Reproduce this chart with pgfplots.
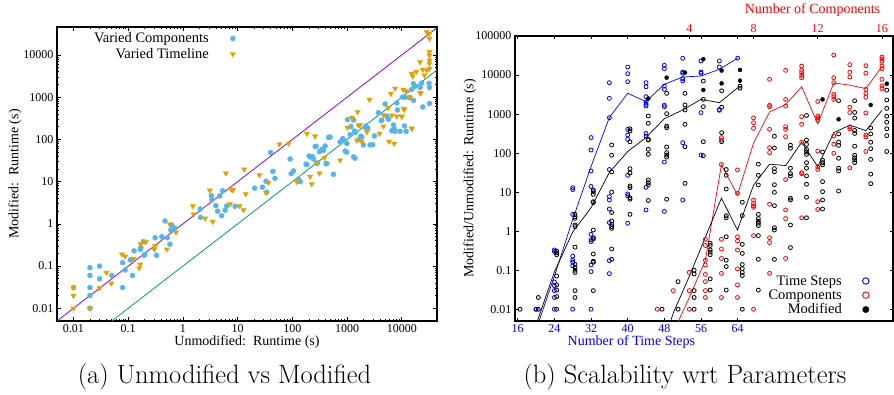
\documentclass[border=0pt]{standalone}
\usepackage{pgfplots}
\pgfplotsset{compat=1.18}
\usepackage{fontspec}
\newfontfamily\axfont{Liberation Serif}
\newcommand\af{\axfont\fontsize{12}{14}\selectfont}
\newcommand\lf{\axfont\fontsize{14}{16}\selectfont}
\newcommand\gf{\axfont\fontsize{14.5}{16}\selectfont}
\definecolor{cblue}{HTML}{56B4E9}
\definecolor{corange}{HTML}{E69F00}
\definecolor{cpurple}{HTML}{9400D3}
\definecolor{cgreen}{HTML}{009E73}
\begin{document}
\begin{tikzpicture}[x=1pt,y=1pt]
\path[use as bounding box] (0,0) rectangle (894,394);
% ---------------- left panel
\begin{axis}[
  at={(57pt,73pt)}, anchor=south west, scale only axis,
  width=380pt, height=294pt,
  xmode=log, ymode=log,
  xmin=0.005, xmax=44000, ymin=0.005, ymax=46000,
  xtick={0.01,0.1,1,10,100,1000,10000},
  xticklabels={0.01,0.1,1,10,100,1000,10000},
  ytick={0.01,0.1,1,10,100,1000,10000},
  yticklabels={0.01,0.1,1,10,100,1000,10000},
  /pgf/number format/assume math mode=true,
  tick label style={font=\af},
  label style={font=\lf},
  axis line style={line width=1.2pt},
  tick style={line width=0.6pt, black},
  major tick length=4pt, minor tick length=2pt,
  xlabel={Unmodified:\ \ Runtime (s)},
  ylabel={Modified:\ \ Runtime (s)},
  xlabel style={at={(axis description cs:0.5,-0.0714)}, anchor=center},
  ylabel style={at={(axis description cs:-0.1105,0.5)}, anchor=center},
  legend style={font=\gf, draw=none, fill=none, at={(axis description cs:0.478,0.995)}, anchor=north east, row sep=0pt, legend cell align=right},
  legend plot pos=right,
  legend image code/.code={\path[draw=none,fill=none] (0pt,0pt) -- (22pt,0pt); \draw[#1] plot coordinates {(22pt,0pt)};},
]
\addplot[only marks, mark=*, mark size=2.5pt, color=cblue] table {
x y
0.01 0.031
0.02 0.092
0.02 0.06
0.02 0.031
0.02 0.02
0.02 0.01
0.03 0.1
0.03 0.05
0.05 0.06
0.079 0.031
0.079 0.12
0.088 0.081
0.109 0.14
0.12 0.06
0.128 0.23
0.166 0.25
0.17 0.27
0.19 0.38
0.196 0.18
0.2 0.19
0.31 0.47
0.33 0.18
0.41 0.5
0.47 1.17
0.52 0.47
0.58 0.33
0.6 0.72
0.63 0.94
0.72 0.79
2.07 2.25
2.1 1.43
3.3 4.65
3.4 3.7
4.0 2.7
4.3 2.0
4.7 4.57
5.1 1.56
5.3 6.1
5.9 2.1
6.3 2.65
9.0 2.6
20.5 7.0
28.4 7.4
33 10.2
34 5.6
40 49
44 17.5
48 12
91 34.4
95 15.5
105 17.9
129 11.4
135 10.2
140 10
178 26
184 25.3
202 40.6
211 38.5
233 39
243 34.4
261 68
272 69
280 27.2
288 27.7
313 51
345 58
370 55
397 70
414 26.7
426 27
457 112
490 114
564 14.9
747 87
835 104
860 97
920 53
988 50
990 80
1016 294
1137 130
1170 201
1310 290
1310 38.5
1365 158
1400 36
1400 145
1680 100
1780 119
1860 112
1990 74
2140 191
2230 208
2390 183
2630 74
2950 75
3160 121
3740 431
4190 279
4300 284
4960 692
5320 353
5700 300
6560 161
7040 220
7240 180
7550 156
8100 731
8340 498
9300 156
10400 1010
11200 208
11500 993
12000 156
13800 980
15200 1540
16300 845
16300 2095
17500 1810
21600 1710
23200 2170
24200 587
31500 2130
32000 1690
32000 705
};
\addlegendentry{Varied Components}
\addplot[only marks, mark=triangle*, mark size=3pt, mark options={rotate=180}, color=corange] table {
x y
0.01 0.031
0.01 0.02
0.01 0.01
0.02 0.01
0.03 0.03
0.04 0.07
0.049 0.039
0.077 0.19
0.088 0.17
0.125 0.15
0.159 0.09
0.166 0.11
0.17 0.33
0.21 0.37
0.3 0.25
0.31 0.3
0.51 0.25
0.57 0.99
0.75 0.63
1.52 2.65
1.56 1.68
2.55 1.35
3.1 6.2
3.5 1.13
6.1 15.8
7.3 2.96
7.6 6.6
8.2 6.3
10.8 2.65
12.8 2.13
13.2 19.6
14.1 5.1
25 14.4
32.7 5.5
36.6 9.5
58 77
85 80
120 10
184 137
226 8.8
211 13.2
260 119
272 27.7
313 15.8
386 37
747 32
1016 191
1220 328
1510 95
1550 447
1615 216
1730 220
1860 87
2300 150
2560 877
3910 137
4620 204
4620 379
5700 566
5860 89
6300 1210
6560 372
7240 80
7550 1600
8100 353
9980 347
10000 353
10700 536
10700 1510
11200 516
12000 1400
14200 993
15200 180
15200 183
15200 3610
15800 3130
18300 4030
21600 6820
21600 1260
22200 1240
24200 4500
25900 3300
28600 4330
32000 4740
32000 6240
32000 7480
32000 9820
32000 11800
32000 24400
32000 32000
28600 35100
};
\addlegendentry{Varied Timeline}
\addplot[cpurple, line width=0.8pt, forget plot] coordinates {(0.005,0.005) (44000,44000)};
\addplot[cgreen, line width=0.8pt, forget plot] coordinates {(0.05,0.005) (44000,4400)};
\end{axis}
% ---------------- right panel, bottom axis (time steps)
\begin{axis}[
  at={(515pt,73pt)}, anchor=south west, scale only axis,
  width=378pt, height=285pt,
  ymode=log, xmin=15.41, xmax=97.89, ymin=0.005, ymax=100000,
  xtick={16,24,32,40,48,56,64},
  xticklabels={16,24,32,40,48,56,64},
  ytick={0.01,0.1,1,10,100,1000,10000,100000},
  yticklabels={0.01,0.1,1,10,100,1000,10000,100000},
  /pgf/number format/assume math mode=true,
  tick label style={font=\af},
  x tick label style={text=blue},
  label style={font=\lf},
  axis line style={line width=1.2pt},
  tick style={line width=0.6pt, black},
  major tick length=3.5pt, minor tick length=0pt,
  xlabel={Number of Time Steps},
  xlabel style={text=blue, at={(axis description cs:0.308,-0.0737)}, anchor=center},
  ylabel={Modified/Unmodified: Runtime (s)},
  ylabel style={at={(axis description cs:-0.119,0.5)}, anchor=center},
]
\addplot[only marks, mark=o, mark size=2pt, blue, mark options={line width=0.8pt}] table {
t v
20 0.01
20 0.01
24 0.33
24 0.30
24 0.05
24 0.04
24 0.03
24 0.02
24 0.01
28 13
28 11.6
28 2.7
28 0.23
28 0.18
28 0.16
28 0.13
28 0.01
32 250
32 120
32 35
32 14
32 0.83
32 0.6
32 0.54
32 0.136
32 0.092
32 0.01
36 6370
36 2530
36 810
36 38
36 7.7
36 6.3
36 3.7
36 1.66
36 0.176
36 0.082
40 16100
40 10800
40 6750
40 406
40 291
40 225
40 27
40 9
40 8.1
40 1.6
44 6370
44 5000
44 2790
44 2040
44 1780
44 1610
44 320
44 274
44 13.3
44 3.5
48 17700
48 14600
48 5230
48 4300
48 1680
48 1550
48 59
48 3.2
52 26800
52 11950
52 11070
52 8080
52 7040
52 185
52 6.3
56 22900
56 11950
56 11070
56 1090
56 89
60 23000
60 16000
60 1300
60 1250
64 27000
};
\addplot[blue, line width=0.7pt] coordinates {(20,0.003) (24,0.07) (28,2.0) (32,45) (36,820) (40,3400) (44,2100) (48,5800) (52,8900) (56,9440) (60,14000) (64,27000)};
\addplot[only marks, mark=o, mark size=2pt, black, mark options={line width=0.8pt}] table {
t v
16.5 0.01
20.5 0.02
20.5 0.01
24.5 0.31
24.5 0.28
24.5 0.25
24.5 0.071
24.5 0.042
24.5 0.031
24.5 0.021
24.5 0.01
28.5 2.7
28.5 2.36
28.5 2.14
28.5 1.44
28.5 1.31
28.5 0.39
28.5 0.14
28.5 0.116
28.5 0.10
28.5 0.088
28.5 0.03
28.5 0.02
32.5 11.4
32.5 10.3
32.5 8.8
32.5 5.7
32.5 5.4
32.5 1.07
32.5 0.68
32.5 0.63
32.5 0.26
32.5 0.17
32.5 0.16
32.5 0.03
36.5 161
36.5 88
36.5 33
36.5 10
36.5 3.0
36.5 1.82
36.5 1.5
36.5 1.31
36.5 1.18
36.5 0.35
36.5 0.19
40.5 420
40.5 370
40.5 195
40.5 40
40.5 31
40.5 14.4
40.5 13
40.5 7.2
40.5 6.6
40.5 2.7
44.5 890
44.5 580
44.5 225
44.5 217
44.5 125
44.5 93
44.5 20.5
44.5 17.5
44.5 15.3
44.5 6.1
48.5 3400
48.5 1024
48.5 494
48.5 448
48.5 143
48.5 103
48.5 89
48.5 79
48.5 6.6
52.5 3400
52.5 1710
52.5 1270
52.5 546
52.5 146
52.5 16.8
56.5 7000
56.5 2380
56.5 1550
56.5 196
56.5 86
60.5 3950
60.5 1500
60.5 334
60.5 196
64.5 5200
64.5 4600
};
\addplot[only marks, mark=*, mark size=2pt, black] table {
t v
44.5 2500
48.5 8570
52.5 11500
56.5 25500
56.5 4140
60.5 13000
60.5 6100
64.5 13500
64.5 7200
};
\addplot[black, line width=0.7pt] coordinates {(20,0.004) (24,0.09) (28,0.95) (32,4) (36,32) (40,110) (44,250) (48,760) (52,1270) (56,2380) (60,1960) (64,4740)};
\end{axis}
% ---------------- right panel, top axis (components)
\begin{axis}[
  at={(515pt,73pt)}, anchor=south west, scale only axis,
  width=378pt, height=285pt,
  ymode=log, xmin=-6.86, xmax=16.69, ymin=0.005, ymax=100000,
  axis x line*=top, hide y axis,
  xtick={4,8,12,16}, xticklabels={4,8,12,16},
  /pgf/number format/assume math mode=true,
  tick label style={font=\af},
  x tick label style={text=red},
  label style={font=\lf},
  axis line style={line width=1.2pt},
  tick style={line width=0.6pt, black},
  major tick length=3.5pt, minor tick length=0pt,
  xlabel={Number of Components},
  xlabel style={text=red, at={(axis description cs:0.787,1.091)}, anchor=center},
  legend style={font=\gf, draw=none, fill=none, at={(axis description cs:0.945,0.005)}, anchor=south east, row sep=-1pt, legend cell align=right},
  legend plot pos=right,
  legend image code/.code={\path[draw=none,fill=none] (0pt,0pt) -- (22pt,0pt); \draw[#1] plot coordinates {(22pt,0pt)};},
]
\addplot[only marks, mark=o, mark size=2pt, red, mark options={line width=0.8pt}, forget plot] table {
c v
2 0.01
3 0.03
4 0.088
4 0.03
4 0.01
5 0.62
5 0.43
5 0.18
5 0.136
5 0.078
5 0.051
5 0.03
5 0.02
6 250
6 217
6 51
6 0.62
6 0.35
6 0.20
6 0.083
6 0.02
7 37
7 9.3
7 0.72
7 0.56
7 0.33
7 0.108
7 0.042
7 0.02
8 800
8 600
8 430
8 6.3
8 5.2
8 4.5
8 4.1
8 0.77
8 0.01
9 7760
9 1680
9 1550
9 406
9 138
9 103
9 4.9
9 0.68
9 0.51
9 0.083
10 13200
10 2380
10 1610
10 475
10 406
10 264
10 21
10 3.5
10 2.1
10 0.2
11 17000
11 13200
11 11500
11 9800
11 8550
11 858
11 546
11 190
11 31.5
11 29.7
11 2.2
12 2100
12 900
12 800
12 700
12 113
12 45
12 38
12 5.7
12 3.6
13 32600
13 8570
13 6370
13 3210
13 2790
13 2380
13 274
13 168
13 99
14 18500
14 11800
14 8900
14 1500
14 1100
14 470
14 420
14 42
15 17300
15 11200
15 4300
15 3400
15 2700
15 1070
15 290
15 260
15 110
16 29000
16 26000
16 22500
16 17000
16 14500
16 7760
16 5240
16 4500
};
\addplot[red, line width=0.7pt, forget plot] coordinates {(3,0.0026) (4,0.02) (5,0.18) (6,50) (7,8.5) (8,180) (9,1130) (10,1750) (11,5000) (12,560) (13,6300) (14,5500) (15,4500) (16,16500)};
\addplot[only marks, mark=o, mark size=2pt, black, mark options={line width=0.8pt}, forget plot] table {
c v
2.3 0.01
3.3 0.051
3.3 0.01
4.3 0.10
4.3 0.08
4.3 0.03
4.3 0.02
4.3 0.01
5.3 0.49
5.3 0.43
5.3 0.33
5.3 0.29
5.3 0.25
5.3 0.06
5.3 0.031
5.3 0.01
6.3 38
6.3 27
6.3 12
6.3 2.5
6.3 2.2
6.3 0.72
6.3 0.18
6.3 0.124
6.3 0.031
7.3 5.5
7.3 2.5
7.3 0.46
7.3 0.27
7.3 0.14
7.3 0.11
7.3 0.088
7.3 0.073
7.3 0.01
8.3 52
8.3 27
8.3 15.3
8.3 2.7
8.3 2.1
8.3 1.8
8.3 1.6
8.3 1.39
8.3 0.77
8.3 0.19
8.3 0.031
9.3 270
9.3 135
9.3 40
9.3 33
9.3 15.5
9.3 9.9
9.3 4.5
9.3 1.23
9.3 1.07
9.3 0.19
10.3 160
10.3 133
10.3 41
10.3 30
10.3 26
10.3 7
10.3 6.3
10.3 1.44
10.3 0.38
11.3 920
11.3 217
11.3 168
11.3 125
11.3 107
11.3 93
11.3 57
11.3 41
11.3 26
11.3 15.9
11.3 7.4
11.3 2.2
12.3 107
12.3 66
12.3 57
12.3 50
12.3 18.6
12.3 10.3
12.3 6.3
12.3 3.7
13.3 2200
13.3 310
13.3 192
13.3 158
13.3 74
13.3 41
13.3 35
13.3 10.7
14.3 2200
14.3 1100
14.3 790
14.3 380
14.3 320
14.3 150
14.3 88
14.3 76
14.3 67
14.3 57
15.3 440
15.3 310
15.3 190
15.3 130
15.3 69
15.3 29
15.3 16.5
16.3 4100
16.3 2300
16.3 1400
16.3 880
16.3 620
16.3 420
16.3 280
16.3 110
};
\addplot[only marks, mark=*, mark size=2pt, black, forget plot] table {
c v
12.3 2380
13.3 735
15.3 1710
16.3 6000
};
\addplot[black, line width=0.7pt, forget plot] coordinates {(2,0.00045) (3,0.008) (4,0.07) (5,0.7) (6,7) (7,1.07) (8,15) (9,52) (10,48) (11,190) (12,45) (13,335) (14,520) (15,375) (16,1250)};
\addlegendimage{only marks, mark=o, mark size=3.2pt, blue, mark options={line width=0.9pt}}
\addlegendentry{Time Steps}
\addlegendimage{only marks, mark=o, mark size=3.2pt, red, mark options={line width=0.9pt}}
\addlegendentry{Components}
\addlegendimage{only marks, mark=*, mark size=3.2pt, black}
\addlegendentry{Modified}
\end{axis}
\node[anchor=base, font=\fontsize{26.5}{30}\selectfont] at (224.5,11) {(a) Unmodified vs Modified};
\node[anchor=base, font=\fontsize{26.5}{30}\selectfont] at (685,11) {(b) Scalability wrt Parameters};
\end{tikzpicture}
\end{document}
